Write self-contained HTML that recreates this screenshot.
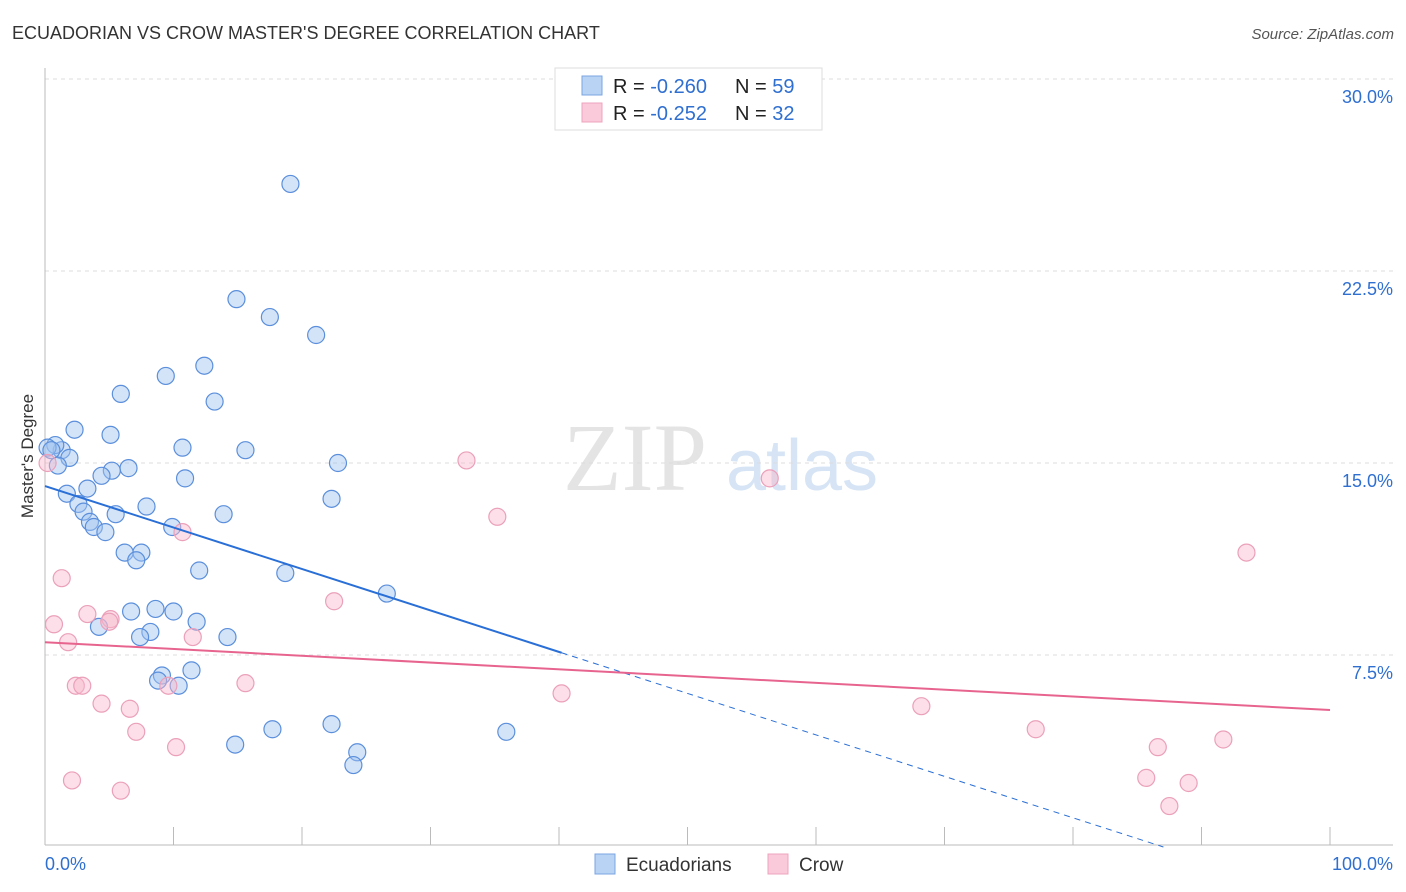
<!DOCTYPE html>
<html><head><meta charset="utf-8"><style>
body{margin:0;background:#fff;font-family:"Liberation Sans",sans-serif;}
#wrap{position:relative;width:1406px;height:892px;overflow:hidden;}
</style></head><body>
<div id="wrap">
<svg id="svg" width="1406" height="892" xmlns="http://www.w3.org/2000/svg">
<text x="12" y="39" font-size="18" fill="#333">ECUADORIAN VS CROW MASTER'S DEGREE CORRELATION CHART</text>
<text x="1394" y="39" font-size="15" fill="#555" font-style="italic" text-anchor="end">Source: ZipAtlas.com</text>
<text x="33" y="456" font-size="17" fill="#333" text-anchor="middle" transform="rotate(-90 33 456)">Master's Degree</text>
<g><text x="635" y="490" font-size="96" fill="#e4e4e4" font-family="Liberation Serif,serif" text-anchor="middle">ZIP</text><text x="802" y="490" font-size="72" fill="#d6e4f5" text-anchor="middle">atlas</text></g>
<g id="grid"></g><g id="axes"></g><g id="pts"></g><g id="trend"></g>
<g>
<rect x="555" y="68" width="267" height="62" fill="#fff" stroke="#ddd"/>
<rect x="582" y="76" width="20" height="19" fill="#b9d3f5" stroke="#7aa6e0"/>
<rect x="582" y="103" width="20" height="19" fill="#fbcada" stroke="#eea3bd"/>
<text x="613" y="93" font-size="20" fill="#222">R = <tspan fill="#2f6fd0">-0.260</tspan></text>
<text x="735" y="93" font-size="20" fill="#222">N = <tspan fill="#2f6fd0">59</tspan></text>
<text x="613" y="120" font-size="20" fill="#222">R = <tspan fill="#2f6fd0"> -0.252</tspan></text>
<text x="735" y="120" font-size="20" fill="#222">N = <tspan fill="#2f6fd0">32</tspan></text>
</g>
<g>
<rect x="595" y="854" width="20" height="20" fill="#b9d3f5" stroke="#7aa6e0"/>
<text x="626" y="871" font-size="19" fill="#333">Ecuadorians</text>
<rect x="768" y="854" width="20" height="20" fill="#fbcada" stroke="#eea3bd"/>
<text x="799" y="871" font-size="19" fill="#333">Crow</text>
</g>
</svg>
</div>
<script>
const yTicks=[7.5,15,22.5,30];
const yTickLabels=["7.5%","15.0%","22.5%","30.0%"];
const xTickLabels=["0.0%","100.0%"];
const blueX=[19.1,14.9,17.5,21.1,12.4,9.4,5.9,13.2,2.3,5.1,10.7,15.6,1.3,1.9,0.8,0.2,1.0,22.8,6.5,5.2,4.4,10.9,3.3,1.7,22.3,7.9,2.6,3.0,5.5,13.9,3.5,3.8,4.7,9.9,7.5,6.2,7.1,12.0,18.7,26.6,6.7,8.6,10.0,11.8,4.2,8.2,7.4,14.2,9.1,8.8,10.4,11.4,22.3,17.7,14.8,24.3,24.0,35.9,0.5];
const blueY=[25.9,21.4,20.7,20.0,18.8,18.4,17.7,17.4,16.3,16.1,15.6,15.5,15.5,15.2,15.7,15.6,14.9,15.0,14.8,14.7,14.5,14.4,14.0,13.8,13.6,13.3,13.4,13.1,13.0,13.0,12.7,12.5,12.3,12.5,11.5,11.5,11.2,10.8,10.7,9.9,9.2,9.3,9.2,8.8,8.6,8.4,8.2,8.2,6.7,6.5,6.3,6.9,4.8,4.6,4.0,3.7,3.2,4.5,15.5];
const pinkX=[32.8,56.4,35.2,93.5,10.7,1.3,22.5,3.3,5.1,0.7,5.0,11.5,1.8,15.6,2.4,2.9,9.6,40.2,4.4,6.6,68.2,7.1,77.1,10.2,91.7,86.6,2.1,85.7,89.0,5.9,87.5,0.2];
const pinkY=[15.1,14.4,12.9,11.5,12.3,10.5,9.6,9.1,8.9,8.7,8.8,8.2,8.0,6.4,6.3,6.3,6.3,6.0,5.6,5.4,5.5,4.5,4.6,3.9,4.2,3.9,2.6,2.7,2.5,2.2,1.6,15.0];
const blueTrend=[14.1,-0.162];
const pinkTrend=[8.0,-0.0265];
const NS="http://www.w3.org/2000/svg";
const X0=45,X1=1330,Y0=847,YS=25.6;
function sx(v){return X0+(X1-X0)*v/100;}
function sy(v){return Y0-v*YS;}
function mk(tag,attrs,parent){const e=document.createElementNS(NS,tag);for(const k in attrs)e.setAttribute(k,attrs[k]);document.getElementById(parent).appendChild(e);return e;}
yTicks.forEach((t,i)=>{
 const l=mk('line',{x1:45,x2:1393,y1:sy(t),y2:sy(t),stroke:'#ddd','stroke-dasharray':'4,4'},'grid');
 
 
 const tx=mk('text',{x:1393,y:sy(t)+24,'font-size':18,fill:'#2f6fd0','text-anchor':'end'},'grid');
 tx.textContent=yTickLabels[i];
 
 
});
const ax=mk('line',{x1:45,x2:1393,y1:845,y2:845,stroke:'#bbb'},'axes');


const ay=mk('line',{x1:45,x2:45,y1:68,y2:845,stroke:'#bbb'},'axes');


for(let k=0;k<=10;k++){
 const t=mk('line',{x1:sx(k*10),x2:sx(k*10),y1:827,y2:845,stroke:'#bbb'},'axes');
 
 
}
const xl0=mk('text',{x:45,y:870,'font-size':18,fill:'#2f6fd0'},'axes');xl0.textContent=xTickLabels[0];


const xl1=mk('text',{x:1393,y:870,'font-size':18,fill:'#2f6fd0','text-anchor':'end'},'axes');xl1.textContent=xTickLabels[1];


blueX.forEach((x,i)=>{
 const c=mk('circle',{cx:sx(x),cy:sy(blueY[i]),r:8.5,fill:'rgba(160,195,240,0.45)',stroke:'#5b8fdc','stroke-width':1.2},'pts');
 
 
});
pinkX.forEach((x,i)=>{
 const c=mk('circle',{cx:sx(x),cy:sy(pinkY[i]),r:8.5,fill:'rgba(248,185,205,0.45)',stroke:'#eba0ba','stroke-width':1.2},'pts');
 
 
});
const bEnd=40.2, bZero=-blueTrend[0]/blueTrend[1];
const b1=mk('line',{x1:sx(0),y1:sy(blueTrend[0]),x2:sx(bEnd),y2:sy(blueTrend[0]+blueTrend[1]*bEnd),stroke:'#2a6fd6','stroke-width':2},'trend');


const b2=mk('line',{x1:sx(bEnd),y1:sy(blueTrend[0]+blueTrend[1]*bEnd),x2:sx(bZero),y2:sy(0),stroke:'#2a6fd6','stroke-width':1,'stroke-dasharray':'6,5'},'trend');


const p1=mk('line',{x1:sx(0),y1:sy(pinkTrend[0]),x2:sx(100),y2:sy(pinkTrend[0]+pinkTrend[1]*100),stroke:'#e7648f','stroke-width':2},'trend');


</script>
</body></html>
